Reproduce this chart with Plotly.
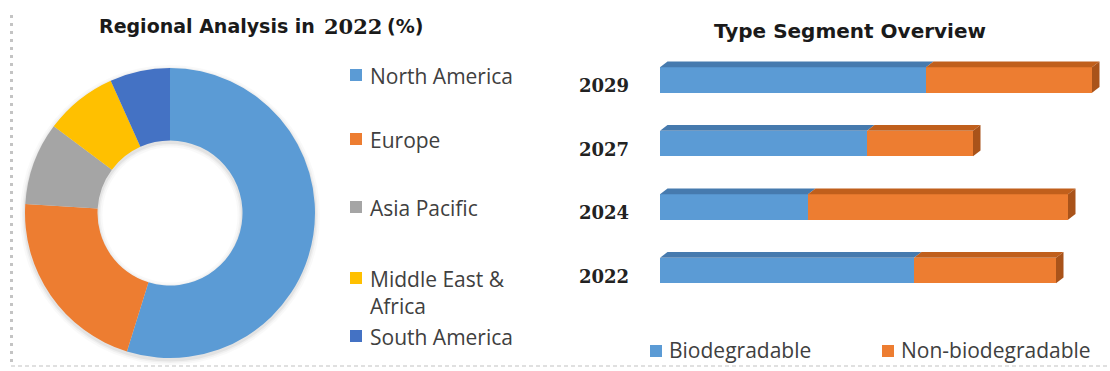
import plotly.graph_objects as go

# ---- Regional share, 2022 (%) ----
regions = ["North America", "Europe", "Asia Pacific", "Middle East &<br>Africa", "South America"]
region_share = [54.8, 21.2, 9.2, 8.1, 6.7]
region_colors = ["#5B9BD5", "#ED7D31", "#A5A5A5", "#FFC000", "#4472C4"]

# ---- Type segment overview ----
years = ["2022", "2024", "2027", "2029"]
biodegradable = [25.4, 14.8, 20.7, 26.6]
non_biodegradable = [14.2, 26.0, 10.6, 16.6]
type_names = ["Biodegradable", "Non-biodegradable"]
type_colors = ["#5B9BD5", "#ED7D31"]
type_top_colors = ["#467AAE", "#C05F1C"]
type_side_color = "#A9531A"

W, H = 1110, 371


def px(x):
    return x / W


def py(y):
    return 1 - y / H


fig = go.Figure()

# soft shadow ring behind the donut
cx, cy, r = 170, 213, 145
for grow, alpha in [(5, 0.025), (3, 0.035), (1.5, 0.05)]:
    rr = r + grow
    fig.add_trace(go.Pie(
        values=[1], hole=(r * 0.5 - grow) / rr, sort=False, textinfo="none",
        showlegend=False, hoverinfo="skip",
        marker=dict(colors=[f"rgba(0,0,0,{alpha})"], line=dict(width=0)),
        domain=dict(x=[px(cx - rr), px(cx + rr)], y=[py(cy + rr + 2), py(cy - rr + 2)]),
    ))

# donut
fig.add_trace(go.Pie(
    labels=regions, values=region_share, hole=0.5, sort=False,
    direction="clockwise", rotation=0, textinfo="none", showlegend=False,
    marker=dict(colors=region_colors, line=dict(width=0)),
    domain=dict(x=[px(cx - r), px(cx + r)], y=[py(cy + r), py(cy - r)]),
))

# stacked horizontal bars
ypos = list(range(len(years)))
bar_w = 0.40
for vals, name, col in zip([biodegradable, non_biodegradable], type_names, type_colors):
    fig.add_trace(go.Bar(
        y=ypos, x=vals, name=name, orientation="h", width=bar_w,
        marker=dict(color=col, line=dict(width=0)), showlegend=False,
    ))

# bevel faces giving the bars depth
dx, dy = 0.75, 0.09
shapes = []
for i, (b, o) in enumerate(zip(biodegradable, non_biodegradable)):
    yt = i + bar_w / 2
    yb = i - bar_w / 2
    segs = [(0, b, type_top_colors[0]), (b, b + o, type_top_colors[1])]
    for x0, x1, c in segs:
        shapes.append(dict(
            type="path", xref="x", yref="y", fillcolor=c, line=dict(width=0),
            path=f"M {x0},{yt} L {x0 + dx},{yt + dy} L {x1 + dx},{yt + dy} L {x1},{yt} Z",
        ))
    e = b + o
    shapes.append(dict(
        type="path", xref="x", yref="y", fillcolor=type_side_color, line=dict(width=0),
        path=f"M {e},{yb} L {e},{yt} L {e + dx},{yt + dy} L {e + dx},{yb + dy} Z",
    ))

# dotted frame on the left and bottom
shapes.append(dict(type="line", xref="paper", yref="paper",
                   x0=px(11.5), x1=px(11.5), y0=py(15), y1=py(366),
                   line=dict(color="#C4C4C4", width=3, dash="3px,5px")))
shapes.append(dict(type="line", xref="paper", yref="paper",
                   x0=px(11), x1=1, y0=py(366), y1=py(366),
                   line=dict(color="#D6D6D6", width=1.5, dash="4px,3px")))

annotations = []
legend_font = dict(family="Open Sans", size=21, color="#404040")

# donut legend
rows_y = [75, 139, 207, 278, 336]
for lab, col, yy in zip(regions, region_colors, rows_y):
    shapes.append(dict(type="rect", xref="paper", yref="paper",
                       x0=px(350), x1=px(362), y0=py(yy + 6), y1=py(yy - 6),
                       fillcolor=col, line=dict(width=0)))
    annotations.append(dict(xref="paper", yref="paper", x=px(368), y=py(yy - 15),
                            xanchor="left", yanchor="top", align="left",
                            text=lab, showarrow=False, font=legend_font))

# bar legend
for lab, col, sx in zip(type_names, type_colors, [650, 882]):
    shapes.append(dict(type="rect", xref="paper", yref="paper",
                       x0=px(sx), x1=px(sx + 12), y0=py(357), y1=py(345),
                       fillcolor=col, line=dict(width=0)))
    annotations.append(dict(xref="paper", yref="paper", x=px(sx + 17), y=py(350),
                            xanchor="left", yanchor="middle",
                            text=lab, showarrow=False, font=legend_font))

# titles
title_font = dict(family="DejaVu Sans", size=19, color="#1A1A1A", weight="bold")
annotations.append(dict(xref="paper", yref="paper", x=px(97), y=py(26),
                        xanchor="left", yanchor="middle", showarrow=False,
                        text="Regional Analysis in", font=title_font))
annotations.append(dict(xref="paper", yref="paper", x=px(322), y=py(26),
                        xanchor="left", yanchor="middle", showarrow=False,
                        text="2022",
                        font=dict(family="DejaVu Serif", size=21, color="#1A1A1A", weight="bold")))
annotations.append(dict(xref="paper", yref="paper", x=px(385), y=py(26),
                        xanchor="left", yanchor="middle", showarrow=False,
                        text="(%)", font=title_font))
annotations.append(dict(xref="paper", yref="paper", x=px(850), y=py(31),
                        xanchor="center", yanchor="middle", showarrow=False,
                        text="Type Segment Overview",
                        font=dict(family="DejaVu Sans", size=20, color="#1A1A1A", weight="bold")))

# axis mapping: 10 px per unit horizontally, 63.5 px per category vertically
x0_px, x1_px = 660, 1108
y_c0, y_step = 270.5, 63.5

fig.update_layout(
    width=W, height=H, margin=dict(l=0, r=0, t=0, b=0),
    paper_bgcolor="white", plot_bgcolor="white",
    barmode="stack", bargap=0,
    xaxis=dict(domain=[px(x0_px), px(x1_px)], range=[0, (x1_px - x0_px) / 10],
               visible=False, fixedrange=True),
    yaxis=dict(domain=[0, 1], range=[(y_c0 - H) / y_step, y_c0 / y_step],
               tickmode="array", tickvals=ypos, ticktext=years,
               showgrid=False, zeroline=False, showline=False, ticks="",
               ticklabelstandoff=30, ticklabelshift=6,
               tickfont=dict(family="DejaVu Serif", size=18, color="#222222", weight="bold"),
               fixedrange=True),
    shapes=shapes, annotations=annotations,
    showlegend=False,
)

fig.write_html("out.html")
